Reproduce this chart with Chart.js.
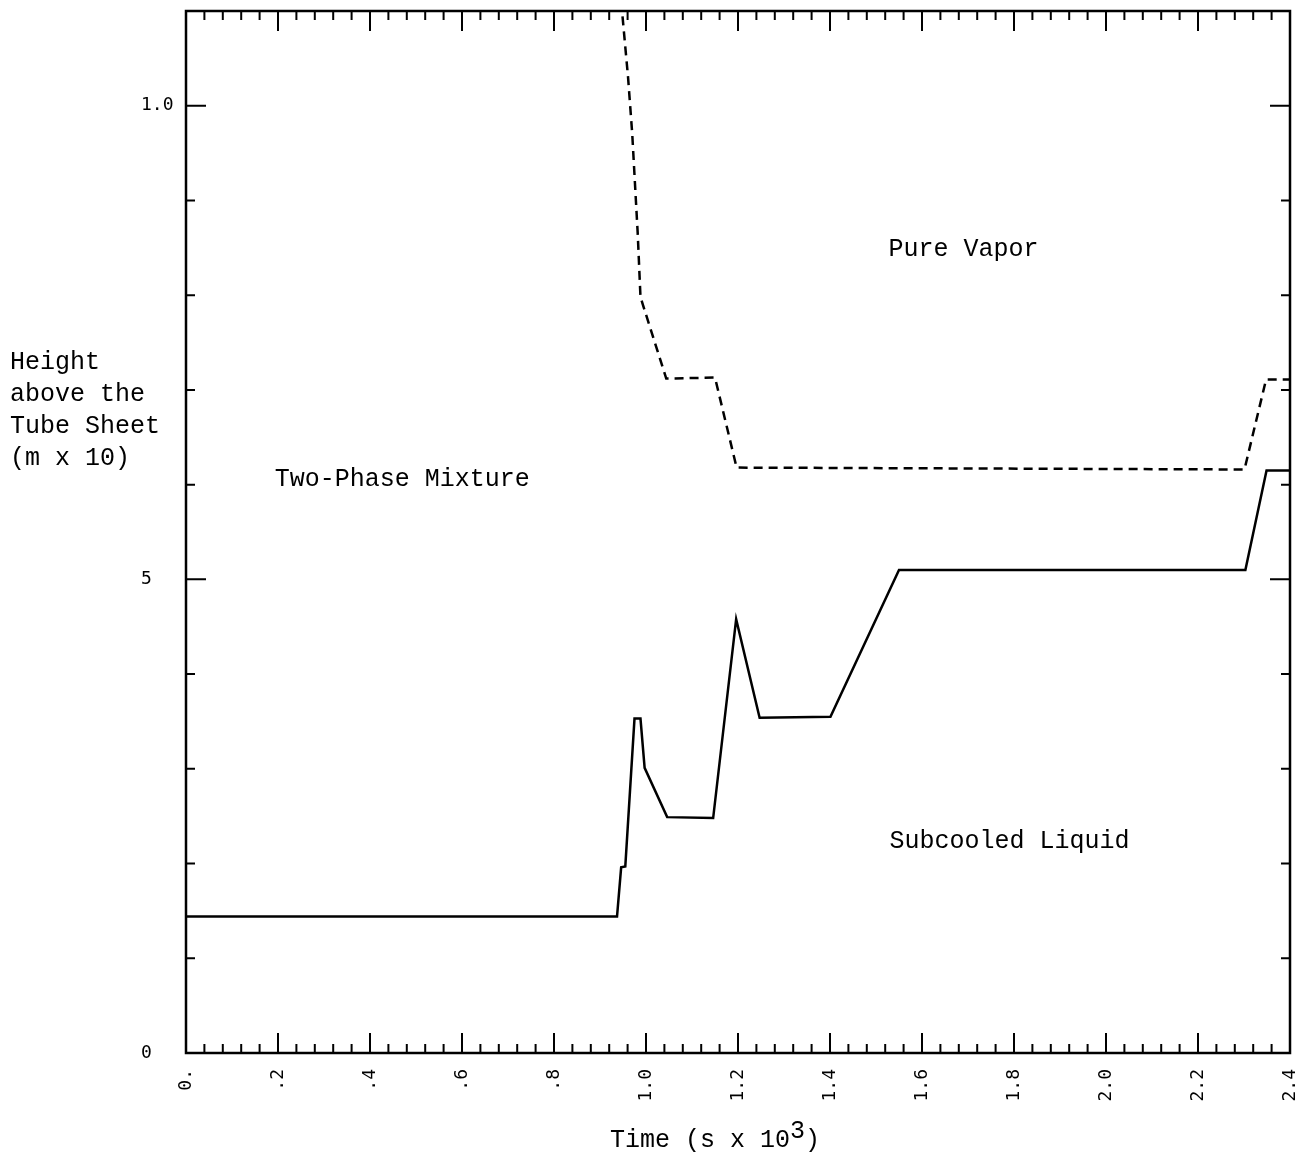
<!DOCTYPE html>
<html>
<head>
<meta charset="utf-8">
<title>Height above the Tube Sheet</title>
<script src="https://cdn.jsdelivr.net/npm/chart.js@4.4.1/dist/chart.umd.min.js"></script>
<style>
  html, body { margin: 0; padding: 0; background: #fff; }
  canvas { display: block; }
</style>
</head>
<body>
<canvas id="chart" width="1305" height="1158"></canvas>
<script>
// time in s x 10^3, heights in m x 10
const liquidTime   = [0, 0.937, 0.946, 0.955, 0.975, 0.988, 0.997, 1.046, 1.146, 1.196, 1.247, 1.401, 1.550, 2.303, 2.349, 2.4];
const liquidHeight = [1.44, 1.44, 1.96, 1.97, 3.53, 3.53, 3.01, 2.49, 2.48, 4.58, 3.54, 3.55, 5.10, 5.10, 6.15, 6.15];

const vaporTime   = [0.946, 0.961, 0.970, 0.982, 0.988, 1.044, 1.150, 1.197, 2.301, 2.348, 2.4];
const vaporHeight = [11.1, 10.30, 9.71, 8.65, 7.98, 7.12, 7.13, 6.18, 6.16, 7.11, 7.11];

const xTickLabels = ['0.', '.2', '.4', '.6', '.8', '1.0', '1.2', '1.4', '1.6', '1.8', '2.0', '2.2', '2.4'];
const yTickValues = [0, 5, 10];
const yTickLabels = ['0', '5', '1.0'];

const yTitleLines = ['Height', 'above the', 'Tube Sheet', '(m x 10)'];
const regionNames  = ['Pure Vapor', 'Two-Phase Mixture', 'Subcooled Liquid'];
const regionTime   = [1.69, 0.47, 1.79];
const regionHeight = [8.48, 6.06, 2.23];

const TYPE_FONT = '25px "Liberation Mono", "DejaVu Sans Mono", monospace';

function toPoints(xs, ys) {
    return xs.map((x, i) => ({ x: x, y: ys[i] }));
}

// frame with inward ticks, plus the free text
const framePlugin = {
    id: 'frame',
    beforeDraw(chart) {
        const ctx = chart.ctx;
        ctx.save();
        ctx.fillStyle = '#fff';
        ctx.fillRect(0, 0, chart.width, chart.height);
        ctx.restore();
    },
    afterDraw(chart) {
        const { ctx, chartArea: a, scales: { x, y } } = chart;
        ctx.save();
        ctx.strokeStyle = '#000';
        ctx.lineWidth = 2.5;
        ctx.strokeRect(a.left, a.top, a.right - a.left, a.bottom - a.top);

        ctx.lineWidth = 2;
        ctx.beginPath();
        for (let i = 1; i < 60; i++) {
            const px = x.getPixelForValue(i * 0.04);
            const len = i % 5 === 0 ? 20 : 9;
            ctx.moveTo(px, a.bottom); ctx.lineTo(px, a.bottom - len);
            ctx.moveTo(px, a.top); ctx.lineTo(px, a.top + len);
        }
        for (let v = 1; v <= 10; v++) {
            const py = y.getPixelForValue(v);
            const len = v % 5 === 0 ? 20 : 9;
            ctx.moveTo(a.left, py); ctx.lineTo(a.left + len, py);
            ctx.moveTo(a.right, py); ctx.lineTo(a.right - len, py);
        }
        ctx.stroke();

        ctx.fillStyle = '#000';
        ctx.font = TYPE_FONT;
        ctx.textBaseline = 'middle';

        // y title, horizontal lines at the far left
        ctx.textAlign = 'left';
        yTitleLines.forEach((line, i) => {
            ctx.fillText(line, 10, 362 + i * 32);
        });

        // region names
        ctx.textAlign = 'center';
        regionNames.forEach((name, i) => {
            ctx.fillText(name, x.getPixelForValue(regionTime[i]), y.getPixelForValue(regionHeight[i]));
        });

        // x title with superscript
        const main = 'Time (s x 10';
        const wMain = ctx.measureText(main).width;
        const wSup = ctx.measureText('3').width;
        const wEnd = ctx.measureText(')').width;
        const cx = x.getPixelForValue(1.15);
        let tx = cx - (wMain + wSup + wEnd) / 2;
        const ty = 1140;
        ctx.textAlign = 'left';
        ctx.fillText(main, tx, ty);
        tx += wMain;
        ctx.fillText('3', tx, ty - 9);
        tx += wSup;
        ctx.fillText(')', tx, ty);

        ctx.restore();
    }
};

const tickFont = { family: '"DejaVu Sans Mono", "Liberation Mono", monospace', size: 18 };

new Chart(document.getElementById('chart').getContext('2d'), {
    type: 'scatter',
    data: {
        datasets: [
            {
                label: 'Subcooled liquid level',
                data: toPoints(liquidTime, liquidHeight),
                showLine: true,
                borderColor: '#000',
                borderWidth: 2.5,
                pointRadius: 0,
                tension: 0
            },
            {
                label: 'Two-phase mixture level',
                data: toPoints(vaporTime, vaporHeight),
                showLine: true,
                borderColor: '#000',
                borderWidth: 2.5,
                borderDash: [9, 6],
                pointRadius: 0,
                tension: 0
            }
        ]
    },
    options: {
        responsive: false,
        animation: false,
        layout: { padding: { left: 141, right: 15, top: 11, bottom: 0 } },
        plugins: {
            legend: { display: false },
            tooltip: { enabled: false }
        },
        scales: {
            x: {
                type: 'linear',
                min: 0,
                max: 2.4,
                grid: { display: false, drawTicks: false },
                border: { display: false },
                ticks: {
                    stepSize: 0.2,
                    autoSkip: false,
                    minRotation: 90,
                    maxRotation: 90,
                    padding: 16,
                    color: '#000',
                    font: tickFont,
                    callback: (value, index) => xTickLabels[index]
                },
                afterFit(scale) {
                    scale.height = 105;
                    scale.paddingLeft = 0;
                    scale.paddingRight = 0;
                }
            },
            y: {
                type: 'linear',
                min: 0,
                max: 11,
                grid: { display: false, drawTicks: false },
                border: { display: false },
                ticks: {
                    stepSize: 1,
                    crossAlign: 'far',
                    padding: 0,
                    color: '#000',
                    font: tickFont,
                    callback: (value) => {
                        const k = yTickValues.indexOf(value);
                        return k < 0 ? '' : yTickLabels[k];
                    }
                },
                afterFit(scale) {
                    scale.width = 45;
                    scale.paddingTop = 0;
                    scale.paddingBottom = 0;
                }
            }
        }
    },
    plugins: [framePlugin]
});
</script>
</body>
</html>
